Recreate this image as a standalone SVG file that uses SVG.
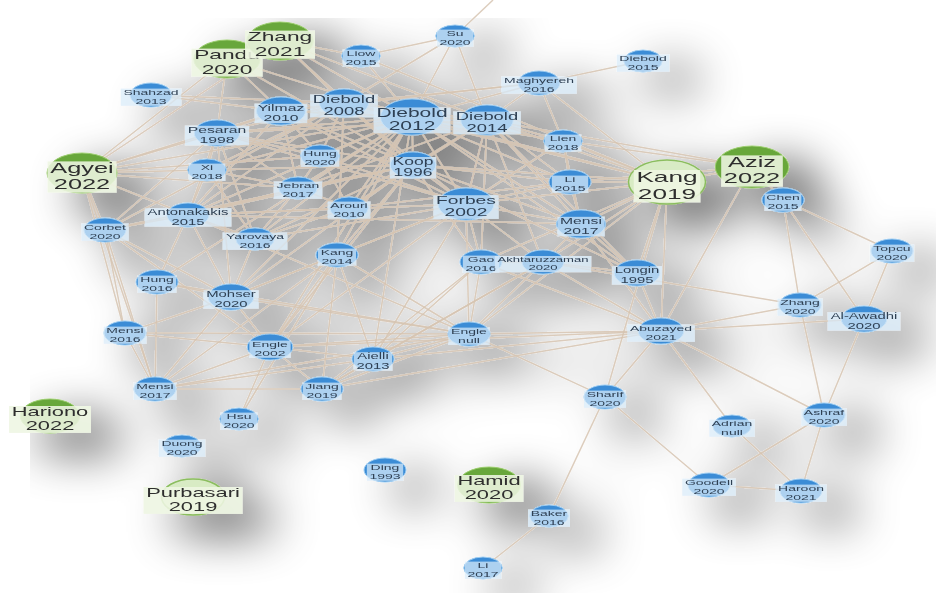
<svg xmlns="http://www.w3.org/2000/svg" width="936" height="593" viewBox="0 0 936 593">
<defs>
  <!-- soft grey drop shadow cast by the whole network -->
  <filter id="drop" filterUnits="userSpaceOnUse" x="0" y="0" width="936" height="593">
    <feGaussianBlur in="SourceAlpha" stdDeviation="24" result="blur"/>
    <feOffset in="blur" dx="30" dy="18" result="off"/>
    <feComponentTransfer in="off" result="fade"><feFuncA type="linear" slope="0.7"/></feComponentTransfer>
    <feFlood flood-color="#000"/>
    <feComposite operator="in" in2="fade" result="shadow"/>
    <feMerge><feMergeNode in="shadow"/><feMergeNode in="SourceGraphic"/></feMerge>
  </filter>
  <style>
    .e line { stroke:#d6c4b2; stroke-width:1.5; stroke-opacity:.85; }
    .n text { font-family:"Liberation Sans", Arial, sans-serif; text-anchor:middle; }
    .n circle { vector-effect:non-scaling-stroke; }
    .b circle { fill:#3a8cd6; stroke:#9ccbf0; stroke-width:1; }
    .b rect { fill:#d9ebf9; fill-opacity:.72; }
    .b text { fill:#2e3f52; }
    .g circle { fill:#68a73a; stroke:#9bcc6e; stroke-width:1; }
    .l circle { fill:#d8ebc4; stroke:#8bbd5e; stroke-width:1.5; }
    .g rect, .l rect { fill:#eef6e2; fill-opacity:.88; }
    .g text, .l text { fill:#2f2f2f; }
    .f75 { font-size:7.5px; } .f8 { font-size:8px; } .f85 { font-size:8.5px; } .f9 { font-size:9px; }
    .f10 { font-size:10px; } .f105 { font-size:10.5px; } .f11 { font-size:11px; } .f12 { font-size:12px; }
    .f125 { font-size:12.5px; } .f13 { font-size:13px; } .f145 { font-size:14.5px; } .f15 { font-size:15px; }
  </style>
</defs>
<rect width="936" height="593" fill="#ffffff"/>
<g filter="url(#drop)">
<g id="edges" class="e">
  <line x1="455" y1="36" x2="493" y2="0"/>
  <line x1="455" y1="36" x2="361" y2="56"/>
  <line x1="455" y1="36" x2="344" y2="103"/>
  <line x1="455" y1="36" x2="412" y2="117"/>
  <line x1="455" y1="36" x2="487" y2="120"/>
  <line x1="361" y1="56" x2="280" y2="41"/>
  <line x1="361" y1="56" x2="412" y2="117"/>
  <line x1="361" y1="56" x2="667" y2="182"/>
  <line x1="539" y1="83" x2="643" y2="61"/>
  <line x1="539" y1="83" x2="412" y2="117"/>
  <line x1="539" y1="83" x2="487" y2="120"/>
  <line x1="539" y1="83" x2="667" y2="182"/>
  <line x1="539" y1="83" x2="344" y2="103"/>
  <line x1="539" y1="83" x2="281" y2="111"/>
  <line x1="539" y1="83" x2="563" y2="141"/>
  <line x1="280" y1="41" x2="344" y2="103"/>
  <line x1="280" y1="41" x2="412" y2="117"/>
  <line x1="280" y1="41" x2="487" y2="120"/>
  <line x1="280" y1="41" x2="413" y2="165"/>
  <line x1="280" y1="41" x2="82" y2="173"/>
  <line x1="227" y1="59" x2="82" y2="173"/>
  <line x1="227" y1="59" x2="281" y2="111"/>
  <line x1="227" y1="59" x2="412" y2="117"/>
  <line x1="227" y1="59" x2="413" y2="165"/>
  <line x1="227" y1="59" x2="217" y2="133"/>
  <line x1="151" y1="95" x2="281" y2="111"/>
  <line x1="151" y1="95" x2="344" y2="103"/>
  <line x1="82" y1="173" x2="217" y2="133"/>
  <line x1="82" y1="173" x2="207" y2="170"/>
  <line x1="82" y1="173" x2="281" y2="111"/>
  <line x1="82" y1="173" x2="320" y2="156"/>
  <line x1="82" y1="173" x2="188" y2="215"/>
  <line x1="82" y1="173" x2="298" y2="188"/>
  <line x1="82" y1="173" x2="105" y2="230"/>
  <line x1="82" y1="173" x2="125" y2="333"/>
  <line x1="82" y1="173" x2="155" y2="389"/>
  <line x1="82" y1="173" x2="412" y2="117"/>
  <line x1="667" y1="182" x2="752" y2="167"/>
  <line x1="667" y1="182" x2="412" y2="117"/>
  <line x1="667" y1="182" x2="487" y2="120"/>
  <line x1="667" y1="182" x2="563" y2="141"/>
  <line x1="667" y1="182" x2="570" y2="182"/>
  <line x1="667" y1="182" x2="466" y2="204"/>
  <line x1="667" y1="182" x2="413" y2="165"/>
  <line x1="667" y1="182" x2="581" y2="224"/>
  <line x1="667" y1="182" x2="543" y2="262"/>
  <line x1="667" y1="182" x2="637" y2="273"/>
  <line x1="667" y1="182" x2="661" y2="331"/>
  <line x1="667" y1="182" x2="481" y2="262"/>
  <line x1="667" y1="182" x2="344" y2="103"/>
  <line x1="667" y1="182" x2="469" y2="334"/>
  <line x1="667" y1="182" x2="605" y2="397"/>
  <line x1="752" y1="167" x2="783" y2="200"/>
  <line x1="752" y1="167" x2="661" y2="331"/>
  <line x1="752" y1="167" x2="487" y2="120"/>
  <line x1="752" y1="167" x2="563" y2="141"/>
  <line x1="752" y1="167" x2="570" y2="182"/>
  <line x1="783" y1="200" x2="800" y2="305"/>
  <line x1="783" y1="200" x2="864" y2="319"/>
  <line x1="783" y1="200" x2="892" y2="251"/>
  <line x1="892" y1="251" x2="800" y2="305"/>
  <line x1="892" y1="251" x2="864" y2="319"/>
  <line x1="800" y1="305" x2="661" y2="331"/>
  <line x1="543" y1="262" x2="800" y2="305"/>
  <line x1="800" y1="305" x2="824" y2="415"/>
  <line x1="864" y1="319" x2="661" y2="331"/>
  <line x1="864" y1="319" x2="824" y2="415"/>
  <line x1="661" y1="331" x2="605" y2="397"/>
  <line x1="661" y1="331" x2="732" y2="426"/>
  <line x1="661" y1="331" x2="824" y2="415"/>
  <line x1="661" y1="331" x2="469" y2="334"/>
  <line x1="661" y1="331" x2="637" y2="273"/>
  <line x1="661" y1="331" x2="581" y2="224"/>
  <line x1="661" y1="331" x2="543" y2="262"/>
  <line x1="661" y1="331" x2="481" y2="262"/>
  <line x1="661" y1="331" x2="373" y2="359"/>
  <line x1="661" y1="331" x2="322" y2="389"/>
  <line x1="605" y1="397" x2="469" y2="334"/>
  <line x1="605" y1="397" x2="709" y2="485"/>
  <line x1="605" y1="397" x2="549" y2="516"/>
  <line x1="732" y1="426" x2="801" y2="491"/>
  <line x1="824" y1="415" x2="709" y2="485"/>
  <line x1="824" y1="415" x2="801" y2="491"/>
  <line x1="709" y1="485" x2="801" y2="491"/>
  <line x1="549" y1="516" x2="483" y2="568"/>
  <line x1="105" y1="230" x2="125" y2="333"/>
  <line x1="105" y1="230" x2="155" y2="389"/>
  <line x1="105" y1="230" x2="188" y2="215"/>
  <line x1="105" y1="230" x2="231" y2="297"/>
  <line x1="105" y1="230" x2="270" y2="347"/>
  <line x1="105" y1="230" x2="344" y2="103"/>
  <line x1="105" y1="230" x2="217" y2="133"/>
  <line x1="105" y1="230" x2="413" y2="165"/>
  <line x1="125" y1="333" x2="155" y2="389"/>
  <line x1="125" y1="333" x2="270" y2="347"/>
  <line x1="125" y1="333" x2="231" y2="297"/>
  <line x1="125" y1="333" x2="469" y2="334"/>
  <line x1="155" y1="389" x2="270" y2="347"/>
  <line x1="155" y1="389" x2="322" y2="389"/>
  <line x1="155" y1="389" x2="231" y2="297"/>
  <line x1="155" y1="389" x2="469" y2="334"/>
  <line x1="155" y1="389" x2="373" y2="359"/>
  <line x1="155" y1="389" x2="157" y2="282"/>
  <line x1="155" y1="389" x2="337" y2="255"/>
  <line x1="239" y1="419" x2="270" y2="347"/>
  <line x1="239" y1="419" x2="337" y2="255"/>
  <line x1="270" y1="347" x2="469" y2="334"/>
  <line x1="270" y1="347" x2="373" y2="359"/>
  <line x1="270" y1="347" x2="322" y2="389"/>
  <line x1="270" y1="347" x2="231" y2="297"/>
  <line x1="270" y1="347" x2="337" y2="255"/>
  <line x1="270" y1="347" x2="466" y2="204"/>
  <line x1="270" y1="347" x2="412" y2="117"/>
  <line x1="270" y1="347" x2="413" y2="165"/>
  <line x1="270" y1="347" x2="661" y2="331"/>
  <line x1="469" y1="334" x2="231" y2="297"/>
  <line x1="469" y1="334" x2="337" y2="255"/>
  <line x1="469" y1="334" x2="466" y2="204"/>
  <line x1="469" y1="334" x2="481" y2="262"/>
  <line x1="469" y1="334" x2="543" y2="262"/>
  <line x1="469" y1="334" x2="188" y2="215"/>
  <line x1="469" y1="334" x2="322" y2="389"/>
  <line x1="469" y1="334" x2="373" y2="359"/>
  <line x1="469" y1="334" x2="157" y2="282"/>
  <line x1="373" y1="359" x2="337" y2="255"/>
  <line x1="373" y1="359" x2="466" y2="204"/>
  <line x1="373" y1="359" x2="412" y2="117"/>
  <line x1="373" y1="359" x2="322" y2="389"/>
  <line x1="373" y1="359" x2="543" y2="262"/>
  <line x1="481" y1="262" x2="373" y2="359"/>
  <line x1="322" y1="389" x2="337" y2="255"/>
  <line x1="322" y1="389" x2="481" y2="262"/>
  <line x1="543" y1="262" x2="322" y2="389"/>
  <line x1="337" y1="255" x2="412" y2="117"/>
  <line x1="337" y1="255" x2="413" y2="165"/>
  <line x1="337" y1="255" x2="466" y2="204"/>
  <line x1="337" y1="255" x2="231" y2="297"/>
  <line x1="337" y1="255" x2="344" y2="103"/>
  <line x1="231" y1="297" x2="188" y2="215"/>
  <line x1="231" y1="297" x2="255" y2="239"/>
  <line x1="231" y1="297" x2="412" y2="117"/>
  <line x1="231" y1="297" x2="413" y2="165"/>
  <line x1="231" y1="297" x2="466" y2="204"/>
  <line x1="231" y1="297" x2="157" y2="282"/>
  <line x1="231" y1="297" x2="217" y2="133"/>
  <line x1="157" y1="282" x2="188" y2="215"/>
  <line x1="157" y1="282" x2="412" y2="117"/>
  <line x1="412" y1="117" x2="344" y2="103"/>
  <line x1="412" y1="117" x2="487" y2="120"/>
  <line x1="412" y1="117" x2="413" y2="165"/>
  <line x1="412" y1="117" x2="466" y2="204"/>
  <line x1="412" y1="117" x2="281" y2="111"/>
  <line x1="412" y1="117" x2="217" y2="133"/>
  <line x1="412" y1="117" x2="320" y2="156"/>
  <line x1="412" y1="117" x2="298" y2="188"/>
  <line x1="412" y1="117" x2="349" y2="208"/>
  <line x1="412" y1="117" x2="207" y2="170"/>
  <line x1="412" y1="117" x2="188" y2="215"/>
  <line x1="412" y1="117" x2="255" y2="239"/>
  <line x1="412" y1="117" x2="563" y2="141"/>
  <line x1="412" y1="117" x2="570" y2="182"/>
  <line x1="412" y1="117" x2="581" y2="224"/>
  <line x1="487" y1="120" x2="344" y2="103"/>
  <line x1="487" y1="120" x2="413" y2="165"/>
  <line x1="487" y1="120" x2="466" y2="204"/>
  <line x1="487" y1="120" x2="563" y2="141"/>
  <line x1="487" y1="120" x2="570" y2="182"/>
  <line x1="487" y1="120" x2="581" y2="224"/>
  <line x1="487" y1="120" x2="349" y2="208"/>
  <line x1="487" y1="120" x2="298" y2="188"/>
  <line x1="487" y1="120" x2="281" y2="111"/>
  <line x1="487" y1="120" x2="217" y2="133"/>
  <line x1="344" y1="103" x2="413" y2="165"/>
  <line x1="344" y1="103" x2="466" y2="204"/>
  <line x1="344" y1="103" x2="281" y2="111"/>
  <line x1="344" y1="103" x2="217" y2="133"/>
  <line x1="344" y1="103" x2="320" y2="156"/>
  <line x1="344" y1="103" x2="188" y2="215"/>
  <line x1="344" y1="103" x2="207" y2="170"/>
  <line x1="413" y1="165" x2="466" y2="204"/>
  <line x1="413" y1="165" x2="281" y2="111"/>
  <line x1="413" y1="165" x2="217" y2="133"/>
  <line x1="413" y1="165" x2="298" y2="188"/>
  <line x1="413" y1="165" x2="349" y2="208"/>
  <line x1="413" y1="165" x2="207" y2="170"/>
  <line x1="413" y1="165" x2="188" y2="215"/>
  <line x1="413" y1="165" x2="255" y2="239"/>
  <line x1="413" y1="165" x2="570" y2="182"/>
  <line x1="413" y1="165" x2="581" y2="224"/>
  <line x1="466" y1="204" x2="281" y2="111"/>
  <line x1="466" y1="204" x2="217" y2="133"/>
  <line x1="466" y1="204" x2="320" y2="156"/>
  <line x1="466" y1="204" x2="188" y2="215"/>
  <line x1="466" y1="204" x2="255" y2="239"/>
  <line x1="466" y1="204" x2="481" y2="262"/>
  <line x1="466" y1="204" x2="543" y2="262"/>
  <line x1="466" y1="204" x2="581" y2="224"/>
  <line x1="466" y1="204" x2="570" y2="182"/>
  <line x1="466" y1="204" x2="563" y2="141"/>
  <line x1="217" y1="133" x2="281" y2="111"/>
  <line x1="217" y1="133" x2="207" y2="170"/>
  <line x1="217" y1="133" x2="320" y2="156"/>
  <line x1="217" y1="133" x2="298" y2="188"/>
  <line x1="217" y1="133" x2="188" y2="215"/>
  <line x1="217" y1="133" x2="255" y2="239"/>
  <line x1="281" y1="111" x2="320" y2="156"/>
  <line x1="281" y1="111" x2="298" y2="188"/>
  <line x1="281" y1="111" x2="188" y2="215"/>
  <line x1="320" y1="156" x2="298" y2="188"/>
  <line x1="320" y1="156" x2="349" y2="208"/>
  <line x1="207" y1="170" x2="188" y2="215"/>
  <line x1="207" y1="170" x2="255" y2="239"/>
  <line x1="207" y1="170" x2="298" y2="188"/>
  <line x1="298" y1="188" x2="349" y2="208"/>
  <line x1="298" y1="188" x2="188" y2="215"/>
  <line x1="298" y1="188" x2="255" y2="239"/>
  <line x1="349" y1="208" x2="188" y2="215"/>
  <line x1="349" y1="208" x2="255" y2="239"/>
  <line x1="349" y1="208" x2="570" y2="182"/>
  <line x1="188" y1="215" x2="255" y2="239"/>
  <line x1="188" y1="215" x2="581" y2="224"/>
  <line x1="570" y1="182" x2="581" y2="224"/>
  <line x1="563" y1="141" x2="570" y2="182"/>
  <line x1="563" y1="141" x2="581" y2="224"/>
  <line x1="581" y1="224" x2="543" y2="262"/>
  <line x1="581" y1="224" x2="637" y2="273"/>
  <line x1="543" y1="262" x2="481" y2="262"/>
  <line x1="543" y1="262" x2="637" y2="273"/>
  <line x1="637" y1="273" x2="487" y2="120"/>
  <line x1="637" y1="273" x2="413" y2="165"/>
  <line x1="637" y1="273" x2="412" y2="117"/>
  <line x1="481" y1="262" x2="487" y2="120"/>
  <line x1="481" y1="262" x2="413" y2="165"/>
  <line x1="543" y1="262" x2="487" y2="120"/>
</g>
<g id="nodes" class="n">
  <g id="node-pandu-2020" class="g" transform="translate(227 59) scale(1.75 1)"><circle r="19"/><rect x="-20.3" y="-10.4" width="40.6" height="28"/><text class="f13"><tspan x="0" y="0">Pandu</tspan><tspan x="0" dy="1.12em">2020</tspan></text></g>
  <g id="node-zhang-2021" class="g" transform="translate(280 41) scale(1.75 1)"><circle r="19"/><rect x="-20" y="-10.4" width="40" height="28"/><text class="f13"><tspan x="0" y="0">Zhang</tspan><tspan x="0" dy="1.12em">2021</tspan></text></g>
  <g id="node-agyei-2022" class="g" transform="translate(82 173) scale(1.75 1)"><circle r="20"/><rect x="-19.7" y="-11.6" width="39.4" height="31.2"/><text class="f145"><tspan x="0" y="0">Agyei</tspan><tspan x="0" dy="1.12em">2022</tspan></text></g>
  <g id="node-aziz-2022" class="g" transform="translate(752 167) scale(1.75 1)"><circle r="21"/><rect x="-17.6" y="-11.6" width="35.2" height="31.2"/><text class="f145"><tspan x="0" y="0">Aziz</tspan><tspan x="0" dy="1.12em">2022</tspan></text></g>
  <g id="node-kang-2019" class="l" transform="translate(667 182) scale(1.75 1)"><circle r="22"/><rect x="-19" y="-12" width="38" height="32.3"/><text class="f15"><tspan x="0" y="0">Kang</tspan><tspan x="0" dy="1.12em">2019</tspan></text></g>
  <g id="node-hariono-2022" class="g" transform="translate(50 416) scale(1.75 1)"><circle r="17"/><rect x="-23.4" y="-10" width="46.8" height="26.9"/><text class="f125"><tspan x="0" y="0">Hariono</tspan><tspan x="0" dy="1.12em">2022</tspan></text></g>
  <g id="node-hamid-2020" class="g" transform="translate(489 485) scale(1.75 1)"><circle r="18"/><rect x="-19.6" y="-10" width="39.2" height="26.9"/><text class="f125"><tspan x="0" y="0">Hamid</tspan><tspan x="0" dy="1.12em">2020</tspan></text></g>
  <g id="node-purbasari-2019" class="l" transform="translate(193 497) scale(1.75 1)"><circle r="18"/><rect x="-28.3" y="-10" width="56.6" height="26.9"/><text class="f125"><tspan x="0" y="0">Purbasari</tspan><tspan x="0" dy="1.12em">2019</tspan></text></g>

  <g id="node-shahzad-2013" class="b" transform="translate(151 95) scale(1.75 1)"><circle r="12"/><rect x="-17.3" y="-6.4" width="34.6" height="17.2"/><text class="f8"><tspan x="0" y="0">Shahzad</tspan><tspan x="0" dy="1.12em">2013</tspan></text></g>
  <g id="node-yilmaz-2010" class="b" transform="translate(281 111) scale(1.75 1)"><circle r="14"/><rect x="-15" y="-7.2" width="30" height="19.4"/><text class="f9"><tspan x="0" y="0">Yilmaz</tspan><tspan x="0" dy="1.12em">2010</tspan></text></g>
  <g id="node-diebold-2008" class="b" transform="translate(344 103) scale(1.75 1)"><circle r="14"/><rect x="-19.3" y="-8.4" width="38.6" height="22.6"/><text class="f105"><tspan x="0" y="0">Diebold</tspan><tspan x="0" dy="1.12em">2008</tspan></text></g>
  <g id="node-diebold-2012" class="b" transform="translate(412 117) scale(1.75 1)"><circle r="18"/><rect x="-21.9" y="-9.6" width="43.8" height="25.8"/><text class="f12"><tspan x="0" y="0">Diebold</tspan><tspan x="0" dy="1.12em">2012</tspan></text></g>
  <g id="node-diebold-2014" class="b" transform="translate(487 120) scale(1.75 1)"><circle r="15"/><rect x="-19.3" y="-8.4" width="38.6" height="22.6"/><text class="f105"><tspan x="0" y="0">Diebold</tspan><tspan x="0" dy="1.12em">2014</tspan></text></g>
  <g id="node-liow-2015" class="b" transform="translate(361 56) scale(1.75 1)"><circle r="11"/><rect x="-10.4" y="-6.4" width="20.8" height="17.2"/><text class="f8"><tspan x="0" y="0">Liow</tspan><tspan x="0" dy="1.12em">2015</tspan></text></g>
  <g id="node-su-2020" class="b" transform="translate(455 36) scale(1.75 1)"><circle r="11"/><rect x="-10.4" y="-6.4" width="20.8" height="17.2"/><text class="f8"><tspan x="0" y="0">Su</tspan><tspan x="0" dy="1.12em">2020</tspan></text></g>
  <g id="node-maghyereh-2016" class="b" transform="translate(539 83) scale(1.75 1)"><circle r="12"/><rect x="-21.5" y="-6.4" width="43" height="17.2"/><text class="f8"><tspan x="0" y="0">Maghyereh</tspan><tspan x="0" dy="1.12em">2016</tspan></text></g>
  <g id="node-diebold-2015" class="b" transform="translate(643 61) scale(1.75 1)"><circle r="11"/><rect x="-15" y="-6.4" width="30" height="17.2"/><text class="f8"><tspan x="0" y="0">Diebold</tspan><tspan x="0" dy="1.12em">2015</tspan></text></g>
  <g id="node-lien-2018" class="b" transform="translate(563 141) scale(1.75 1)"><circle r="11"/><rect x="-10.4" y="-6.4" width="20.8" height="17.2"/><text class="f8"><tspan x="0" y="0">Lien</tspan><tspan x="0" dy="1.12em">2018</tspan></text></g>
  <g id="node-li-2015" class="b" transform="translate(570 182) scale(1.75 1)"><circle r="12"/><rect x="-10.4" y="-6.4" width="20.8" height="17.2"/><text class="f8"><tspan x="0" y="0">Li</tspan><tspan x="0" dy="1.12em">2015</tspan></text></g>
  <g id="node-pesaran-1998" class="b" transform="translate(217 133) scale(1.75 1)"><circle r="13"/><rect x="-18.3" y="-7.2" width="36.6" height="19.4"/><text class="f9"><tspan x="0" y="0">Pesaran</tspan><tspan x="0" dy="1.12em">1998</tspan></text></g>
  <g id="node-hung-2020" class="b" transform="translate(320 156) scale(1.75 1)"><circle r="11"/><rect x="-11" y="-6.4" width="22" height="17.2"/><text class="f8"><tspan x="0" y="0">Hung</tspan><tspan x="0" dy="1.12em">2020</tspan></text></g>
  <g id="node-xi-2018" class="b" transform="translate(207 170) scale(1.75 1)"><circle r="11"/><rect x="-10.4" y="-6.4" width="20.8" height="17.2"/><text class="f8"><tspan x="0" y="0">Xi</tspan><tspan x="0" dy="1.12em">2018</tspan></text></g>
  <g id="node-koop-1996" class="b" transform="translate(413 165) scale(1.75 1)"><circle r="13"/><rect x="-13.2" y="-8" width="26.4" height="21.5"/><text class="f10"><tspan x="0" y="0">Koop</tspan><tspan x="0" dy="1.12em">1996</tspan></text></g>
  <g id="node-jebran-2017" class="b" transform="translate(298 188) scale(1.75 1)"><circle r="11"/><rect x="-13.8" y="-6.4" width="27.6" height="17.2"/><text class="f8"><tspan x="0" y="0">Jebran</tspan><tspan x="0" dy="1.12em">2017</tspan></text></g>
  <g id="node-arouri-2010" class="b" transform="translate(349 208) scale(1.75 1)"><circle r="11"/><rect x="-12.2" y="-6.4" width="24.4" height="17.2"/><text class="f8"><tspan x="0" y="0">Arouri</tspan><tspan x="0" dy="1.12em">2010</tspan></text></g>
  <g id="node-forbes-2002" class="b" transform="translate(466 204) scale(1.75 1)"><circle r="16"/><rect x="-18.6" y="-8.8" width="37.2" height="23.7"/><text class="f11"><tspan x="0" y="0">Forbes</tspan><tspan x="0" dy="1.12em">2002</tspan></text></g>
  <g id="node-antonakakis-2015" class="b" transform="translate(188 215) scale(1.75 1)"><circle r="12"/><rect x="-24.7" y="-6.8" width="49.4" height="18.3"/><text class="f85"><tspan x="0" y="0">Antonakakis</tspan><tspan x="0" dy="1.12em">2015</tspan></text></g>
  <g id="node-yarovaya-2016" class="b" transform="translate(255 239) scale(1.75 1)"><circle r="11"/><rect x="-18.4" y="-6.4" width="36.8" height="17.2"/><text class="f8"><tspan x="0" y="0">Yarovaya</tspan><tspan x="0" dy="1.12em">2016</tspan></text></g>
  <g id="node-corbet-2020" class="b" transform="translate(105 230) scale(1.75 1)"><circle r="12"/><rect x="-13.5" y="-6.4" width="27" height="17.2"/><text class="f8"><tspan x="0" y="0">Corbet</tspan><tspan x="0" dy="1.12em">2020</tspan></text></g>
  <g id="node-mensi-2017-a" class="b" transform="translate(581 224) scale(1.75 1)"><circle r="14"/><rect x="-13.5" y="-7.2" width="27" height="19.4"/><text class="f9"><tspan x="0" y="0">Mensi</tspan><tspan x="0" dy="1.12em">2017</tspan></text></g>
  <g id="node-kang-2014" class="b" transform="translate(337 255) scale(1.75 1)"><circle r="12"/><rect x="-10.9" y="-6.4" width="21.8" height="17.2"/><text class="f8"><tspan x="0" y="0">Kang</tspan><tspan x="0" dy="1.12em">2014</tspan></text></g>
  <g id="node-gao-2016" class="b" transform="translate(481 262) scale(1.75 1)"><circle r="12"/><rect x="-10.4" y="-6.4" width="20.8" height="17.2"/><text class="f8"><tspan x="0" y="0">Gao</tspan><tspan x="0" dy="1.12em">2016</tspan></text></g>
  <g id="node-akhtaruzzaman-2020" class="b" transform="translate(543 262) scale(1.75 1)"><circle r="12"/><rect x="-27.5" y="-6" width="55" height="16.1"/><text class="f75"><tspan x="0" y="0">Akhtaruzzaman</tspan><tspan x="0" dy="1.12em">2020</tspan></text></g>
  <g id="node-longin-1995" class="b" transform="translate(637 273) scale(1.75 1)"><circle r="13"/><rect x="-14.3" y="-6.8" width="28.6" height="18.3"/><text class="f85"><tspan x="0" y="0">Longin</tspan><tspan x="0" dy="1.12em">1995</tspan></text></g>
  <g id="node-topcu-2020" class="b" transform="translate(892 251) scale(1.75 1)"><circle r="12"/><rect x="-12.6" y="-6.4" width="25.2" height="17.2"/><text class="f8"><tspan x="0" y="0">Topcu</tspan><tspan x="0" dy="1.12em">2020</tspan></text></g>
  <g id="node-hung-2016" class="b" transform="translate(157 282) scale(1.75 1)"><circle r="12"/><rect x="-11" y="-6.4" width="22" height="17.2"/><text class="f8"><tspan x="0" y="0">Hung</tspan><tspan x="0" dy="1.12em">2016</tspan></text></g>
  <g id="node-mohser-2020" class="b" transform="translate(231 297) scale(1.75 1)"><circle r="13"/><rect x="-15.7" y="-6.8" width="31.4" height="18.3"/><text class="f85"><tspan x="0" y="0">Mohser</tspan><tspan x="0" dy="1.12em">2020</tspan></text></g>
  <g id="node-zhang-2020" class="b" transform="translate(800 305) scale(1.75 1)"><circle r="12"/><rect x="-12.9" y="-6.4" width="25.8" height="17.2"/><text class="f8"><tspan x="0" y="0">Zhang</tspan><tspan x="0" dy="1.12em">2020</tspan></text></g>
  <g id="node-al-awadhi-2020" class="b" transform="translate(864 319) scale(1.75 1)"><circle r="13"/><rect x="-20.7" y="-6.8" width="41.4" height="18.3"/><text class="f85"><tspan x="0" y="0">Al-Awadhi</tspan><tspan x="0" dy="1.12em">2020</tspan></text></g>
  <g id="node-abuzayed-2021" class="b" transform="translate(661 331) scale(1.75 1)"><circle r="13"/><rect x="-19.3" y="-6.4" width="38.6" height="17.2"/><text class="f8"><tspan x="0" y="0">Abuzayed</tspan><tspan x="0" dy="1.12em">2021</tspan></text></g>
  <g id="node-engle-null" class="b" transform="translate(469 334) scale(1.75 1)"><circle r="12"/><rect x="-11.8" y="-6.4" width="23.6" height="17.2"/><text class="f8"><tspan x="0" y="0">Engle</tspan><tspan x="0" dy="1.12em">null</tspan></text></g>
  <g id="node-mensi-2016" class="b" transform="translate(125 333) scale(1.75 1)"><circle r="12"/><rect x="-12.2" y="-6.4" width="24.4" height="17.2"/><text class="f8"><tspan x="0" y="0">Mensi</tspan><tspan x="0" dy="1.12em">2016</tspan></text></g>
  <g id="node-engle-2002" class="b" transform="translate(270 347) scale(1.75 1)"><circle r="13"/><rect x="-11.8" y="-6.4" width="23.6" height="17.2"/><text class="f8"><tspan x="0" y="0">Engle</tspan><tspan x="0" dy="1.12em">2002</tspan></text></g>
  <g id="node-aielli-2013" class="b" transform="translate(373 359) scale(1.75 1)"><circle r="12"/><rect x="-11" y="-6.8" width="22" height="18.3"/><text class="f85"><tspan x="0" y="0">Aielli</tspan><tspan x="0" dy="1.12em">2013</tspan></text></g>
  <g id="node-jiang-2019" class="b" transform="translate(322 389) scale(1.75 1)"><circle r="12"/><rect x="-11" y="-6.4" width="22" height="17.2"/><text class="f8"><tspan x="0" y="0">Jiang</tspan><tspan x="0" dy="1.12em">2019</tspan></text></g>
  <g id="node-mensi-2017-b" class="b" transform="translate(155 389) scale(1.75 1)"><circle r="12"/><rect x="-12.2" y="-6.4" width="24.4" height="17.2"/><text class="f8"><tspan x="0" y="0">Mensi</tspan><tspan x="0" dy="1.12em">2017</tspan></text></g>
  <g id="node-sharif-2020" class="b" transform="translate(605 397) scale(1.75 1)"><circle r="12"/><rect x="-12" y="-6.4" width="24" height="17.2"/><text class="f8"><tspan x="0" y="0">Sharif</tspan><tspan x="0" dy="1.12em">2020</tspan></text></g>
  <g id="node-hsu-2020" class="b" transform="translate(239 419) scale(1.75 1)"><circle r="11"/><rect x="-10.4" y="-6.4" width="20.8" height="17.2"/><text class="f8"><tspan x="0" y="0">Hsu</tspan><tspan x="0" dy="1.12em">2020</tspan></text></g>
  <g id="node-ashraf-2020" class="b" transform="translate(824 415) scale(1.75 1)"><circle r="12"/><rect x="-13" y="-6.4" width="26" height="17.2"/><text class="f8"><tspan x="0" y="0">Ashraf</tspan><tspan x="0" dy="1.12em">2020</tspan></text></g>
  <g id="node-adrian-null" class="b" transform="translate(732 426) scale(1.75 1)"><circle r="11"/><rect x="-13" y="-6.4" width="26" height="17.2"/><text class="f8"><tspan x="0" y="0">Adrian</tspan><tspan x="0" dy="1.12em">null</tspan></text></g>
  <g id="node-duong-2020" class="b" transform="translate(182 446) scale(1.75 1)"><circle r="11"/><rect x="-13.3" y="-6.4" width="26.6" height="17.2"/><text class="f8"><tspan x="0" y="0">Duong</tspan><tspan x="0" dy="1.12em">2020</tspan></text></g>
  <g id="node-ding-1993" class="b" transform="translate(385 470) scale(1.75 1)"><circle r="12"/><rect x="-10.4" y="-6.4" width="20.8" height="17.2"/><text class="f8"><tspan x="0" y="0">Ding</tspan><tspan x="0" dy="1.12em">1993</tspan></text></g>
  <g id="node-goodell-2020" class="b" transform="translate(709 485) scale(1.75 1)"><circle r="12"/><rect x="-15.3" y="-6.4" width="30.6" height="17.2"/><text class="f8"><tspan x="0" y="0">Goodell</tspan><tspan x="0" dy="1.12em">2020</tspan></text></g>
  <g id="node-haroon-2021" class="b" transform="translate(801 491) scale(1.75 1)"><circle r="12"/><rect x="-14.6" y="-6.4" width="29.2" height="17.2"/><text class="f8"><tspan x="0" y="0">Haroon</tspan><tspan x="0" dy="1.12em">2021</tspan></text></g>
  <g id="node-baker-2016" class="b" transform="translate(549 516) scale(1.75 1)"><circle r="11"/><rect x="-12" y="-6.4" width="24" height="17.2"/><text class="f8"><tspan x="0" y="0">Baker</tspan><tspan x="0" dy="1.12em">2016</tspan></text></g>
  <g id="node-li-2017" class="b" transform="translate(483 568) scale(1.75 1)"><circle r="11"/><rect x="-10.4" y="-6.4" width="20.8" height="17.2"/><text class="f8"><tspan x="0" y="0">Li</tspan><tspan x="0" dy="1.12em">2017</tspan></text></g>
  <g id="node-chen-2015" class="b" transform="translate(783 200) scale(1.75 1)"><circle r="12"/><rect x="-10.5" y="-6.4" width="21" height="17.2"/><text class="f8"><tspan x="0" y="0">Chen</tspan><tspan x="0" dy="1.12em">2015</tspan></text></g>
</g>
</g>
</svg>
